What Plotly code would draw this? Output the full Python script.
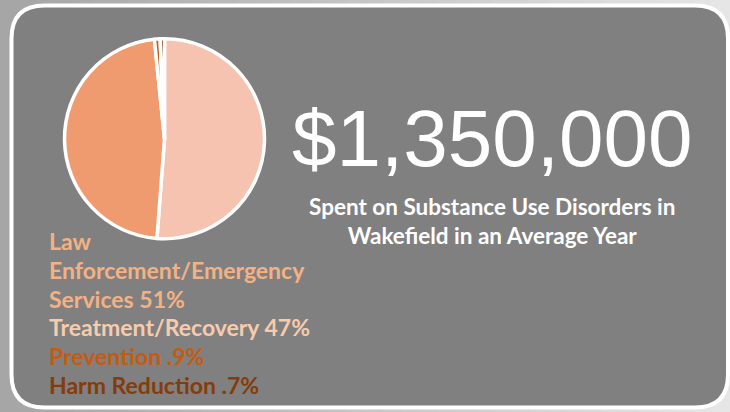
import plotly.graph_objects as go

# ---- data ----
categories = ["Law Enforcement/Emergency Services", "Treatment/Recovery", "Prevention", "Harm Reduction"]
legend_lines = [["Law", "Enforcement/Emergency", "Services 51%"], ["Treatment/Recovery 47%"],
                ["Prevention .9%"], ["Harm Reduction .7%"]]
values = [51, 47, 0.9, 0.7]
slice_colors = ["#f5c3b0", "#f09b6f", "#c55a11", "#843c0c"]
text_colors = ["#f4b183", "#f8cbad", "#c55a11", "#843c0c"]
headline = "$1,350,000"
subtitle = "Spent on Substance Use Disorders in<br>Wakefield in an Average Year"

W, H = 730, 412
fig = go.Figure()

def px(x):
    return x / W

def py(y):
    return 1 - y / H

fig.add_trace(go.Pie(
    labels=categories, values=values, sort=False, direction="clockwise", rotation=0,
    marker=dict(colors=slice_colors, line=dict(color="white", width=3.5)),
    textinfo="none", hoverinfo="label+percent", showlegend=False,
    domain=dict(x=[px(64.5), px(264.5)], y=[py(238.7), py(38.7)]),
))

shapes = []
# background gradient strips
n = 40
for i in range(n):
    t = i / (n - 1)
    c = int(166 + t * (230 - 166))
    shapes.append(dict(type="rect", xref="paper", yref="paper", x0=i / n, x1=(i + 1) / n + 0.002,
                       y0=0, y1=1, line=dict(width=0), fillcolor=f"rgb({c},{c},{c})", layer="below"))
# rounded panel
x0, x1, y0, y1, r = 11.5, 728, 5.5, 407.5, 33
path = (f"M {x0 + r},{y0} L {x1 - r},{y0} Q {x1},{y0} {x1},{y0 + r} L {x1},{y1 - r} Q {x1},{y1} {x1 - r},{y1} "
        f"L {x0 + r},{y1} Q {x0},{y1} {x0},{y1 - r} L {x0},{y0 + r} Q {x0},{y0} {x0 + r},{y0} Z")
shapes.append(dict(type="path", xref="x", yref="y", path=path, fillcolor="#808080",
                   line=dict(color="white", width=4), layer="below"))

annotations = [
    dict(text=headline, x=px(491.5), y=py(139), xref="paper", yref="paper", xanchor="center", yanchor="middle",
         showarrow=False, font=dict(family="Liberation Sans, Arial", size=80, color="white")),
    dict(text="<b>" + subtitle + "</b>", x=px(493), y=py(221), xref="paper", yref="paper",
         xanchor="center", yanchor="middle",
         showarrow=False, font=dict(family="Lato", size=22.5, color="white")),
]

line_idx = 0
for lines, col in zip(legend_lines, text_colors):
    for ln in lines:
        annotations.append(dict(text=f"<b>{ln}</b>", x=px(47), y=py(241 + 28.8 * line_idx), xref="paper", yref="paper",
                                xanchor="left", yanchor="middle", showarrow=False,
                                font=dict(family="Lato", size=23, color=col)))
        line_idx += 1

fig.update_layout(
    width=W, height=H, margin=dict(l=0, r=0, t=0, b=0),
    paper_bgcolor="#c0c0c0", plot_bgcolor="rgba(0,0,0,0)",
    xaxis=dict(range=[0, W], visible=False, domain=[0, 1], fixedrange=True),
    yaxis=dict(range=[H, 0], visible=False, domain=[0, 1], fixedrange=True),
    shapes=shapes, annotations=annotations, showlegend=False,
)

fig.write_html("out.html", config={"displayModeBar": False},
               post_script="document.body.style.margin='0';")
